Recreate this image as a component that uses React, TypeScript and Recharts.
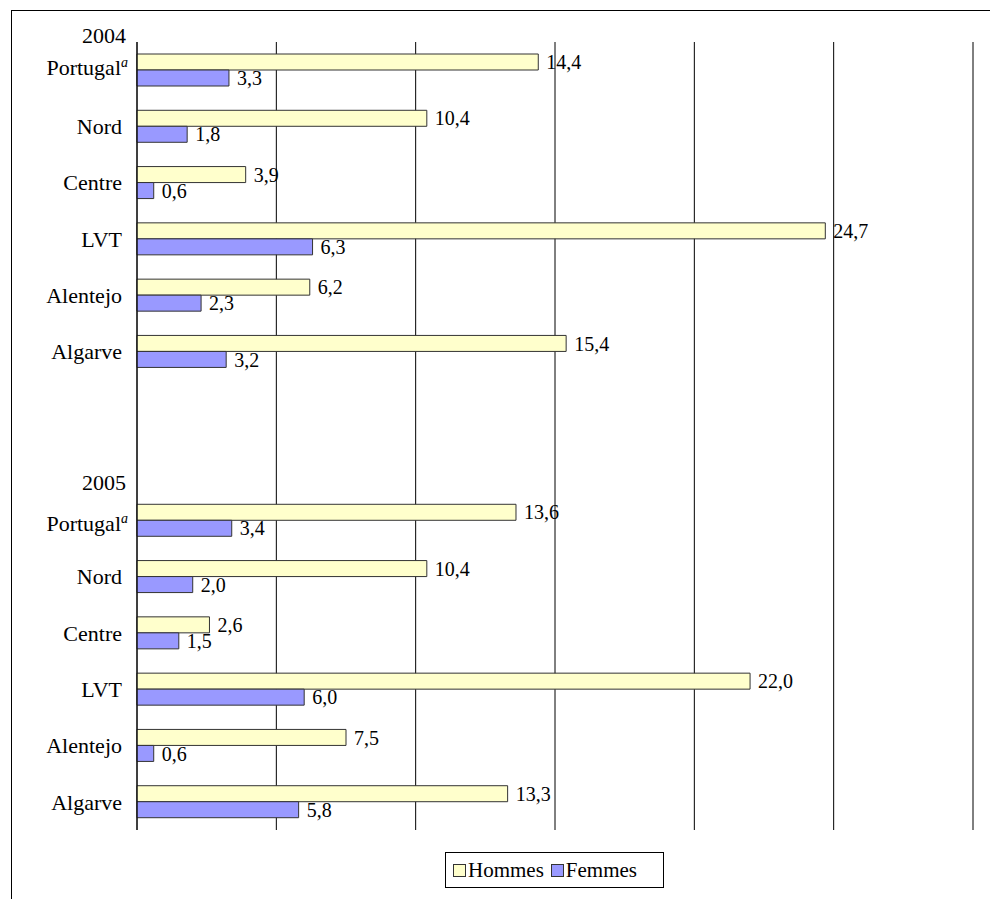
import { BarChart, Bar, XAxis, YAxis, CartesianGrid, Legend, LabelList } from "recharts";

const regions = ["Portugal", "Nord", "Centre", "LVT", "Alentejo", "Algarve"];
const years = ["2004", "2005"];
const hommes2004 = [14.4, 10.4, 3.9, 24.7, 6.2, 15.4];
const femmes2004 = [3.3, 1.8, 0.6, 6.3, 2.3, 3.2];
const hommes2005 = [13.6, 10.4, 2.6, 22.0, 7.5, 13.3];
const femmes2005 = [3.4, 2.0, 1.5, 6.0, 0.6, 5.8];
const xTicks = [0, 5, 10, 15, 20, 25, 30];

const HOMMES = "#FFFFCC";
const FEMMES = "#9999FF";
const EDGE = "#333333";
const FONT = "Liberation Serif, DejaVu Serif, Times New Roman, serif";

type Row = { key: string; name: string; year?: string; hommes: number | null; femmes: number | null };

// 2004 block, two empty rows as a spacer, then 2005 block
const rows: Row[] = [
  ...regions.map((r, i) => ({ key: `2004-${r}`, name: r, year: i === 0 ? years[0] : undefined, hommes: hommes2004[i], femmes: femmes2004[i] })),
  { key: "gap-1", name: "", hommes: null, femmes: null },
  { key: "gap-2", name: "", hommes: null, femmes: null },
  ...regions.map((r, i) => ({ key: `2005-${r}`, name: r, year: i === 0 ? years[1] : undefined, hommes: hommes2005[i], femmes: femmes2005[i] })),
];

const fmt = (v: any) => (v == null || v === "" ? "" : Number(v).toFixed(1).replace(".", ","));

const tickStyle = { fontFamily: FONT, fontSize: 22 };
const valueStyle = { fontFamily: FONT, fontSize: 20 };

function RegionTick(props: any) {
  const { x, y, index } = props;
  const row = rows[index];
  if (!row || !row.name) return null;
  if (row.name === "Portugal") {
    return (
      <g>
        <text x={x + 4} y={y - (row.year === "2004" ? 35 : 38)} dy="0.35em" textAnchor="end" style={tickStyle} fill="#000">
          {row.year}
        </text>
        <text x={x + 6} y={y - (row.year === "2004" ? 3 : -3)} dy="0.35em" textAnchor="end" style={tickStyle} fill="#000">
          Portugal
          <tspan style={{ fontSize: 14, fontStyle: "italic" }} dy={-8}>a</tspan>
        </text>
      </g>
    );
  }
  return (
    <text x={x} y={y} dy="0.35em" textAnchor="end" style={tickStyle} fill="#000">
      {row.name}
    </text>
  );
}

function LegendBox() {
  const item = (label: string, color: string) => (
    <span style={{ display: "inline-flex", alignItems: "center", marginRight: 7 }}>
      <span style={{ width: 11, height: 11, background: color, border: `1px solid ${EDGE}`, marginRight: 2, display: "inline-block" }} />
      <span>{label}</span>
    </span>
  );
  return (
    <div style={{ border: "1px solid #000", width: 219, height: 36, display: "flex", alignItems: "center", paddingLeft: 7, boxSizing: "border-box", fontFamily: FONT, fontSize: 21, color: "#000", background: "#fff", whiteSpace: "nowrap" }}>
      {item("Hommes", HOMMES)}
      {item("Femmes", FEMMES)}
    </div>
  );
}

export default function App() {
  return (
    <div style={{ position: "absolute", left: 0, top: 0, width: 990, height: 899, overflow: "hidden", background: "#fff", fontFamily: FONT }}>
      <div style={{ position: "absolute", left: 11, top: 10, width: 990, height: 899, borderTop: "1px solid #000", borderLeft: "1px solid #000" }} />
      <div style={{ position: "absolute", left: 0, top: 0 }}>
        <BarChart
          layout="vertical"
          width={990}
          height={899}
          data={rows}
          margin={{ top: 42, right: 17, bottom: 69, left: 0 }}
          barGap={0}
          barSize={16}
        >
          <CartesianGrid horizontal={false} stroke="#000" />
          <XAxis type="number" domain={[0, 30]} ticks={xTicks} hide />
          <YAxis
            type="category"
            dataKey="key"
            width={137}
            tickSize={0}
            tickMargin={15}
            axisLine={{ stroke: "#000" }}
            tickLine={false}
            tick={<RegionTick />}
            interval={0}
          />
          <Legend
            layout="horizontal"
            verticalAlign="middle"
            align="center"
            content={<LegendBox />}
            wrapperStyle={{ position: "absolute", left: 445, top: 852, width: "auto", height: "auto" }}
          />
          <Bar dataKey="hommes" name="Hommes" fill={HOMMES} stroke={EDGE} strokeWidth={1} isAnimationActive={false}>
            <LabelList dataKey="hommes" position="right" offset={8} formatter={fmt} fill="#000" style={valueStyle} />
          </Bar>
          <Bar dataKey="femmes" name="Femmes" fill={FEMMES} stroke={EDGE} strokeWidth={1} isAnimationActive={false}>
            <LabelList dataKey="femmes" position="right" offset={8} formatter={fmt} fill="#000" style={valueStyle} />
          </Bar>
        </BarChart>
      </div>
    </div>
  );
}
